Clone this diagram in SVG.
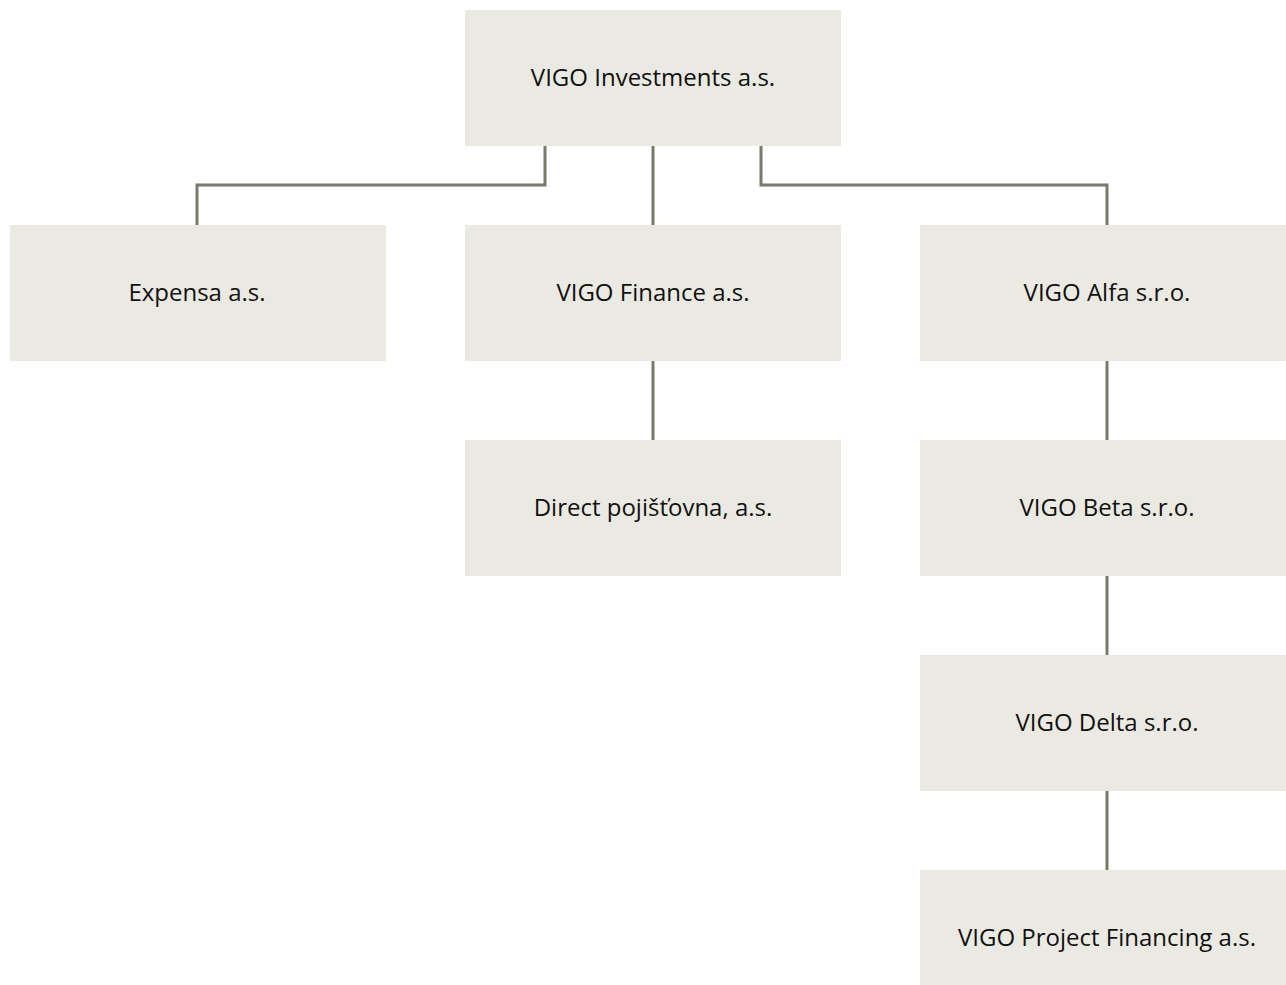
<svg xmlns="http://www.w3.org/2000/svg" width="1286" height="985" viewBox="0 0 1286 985">
<style>
.box{fill:#EBEAE2}
.t{font-family:"Open Sans","Noto Sans",sans-serif;font-size:24px;fill:#111;text-anchor:middle;dominant-baseline:central}
.c{fill:none;stroke:#7B7969;stroke-width:3}
</style>
<rect width="1286" height="985" fill="#fff"/>
<g id="connectors">
<polyline class="c" points="545,146 545,185 197,185 197,225"/>
<line class="c" x1="653" y1="146" x2="653" y2="225"/>
<polyline class="c" points="761,146 761,185 1107,185 1107,225"/>
<line class="c" x1="653" y1="361" x2="653" y2="440"/>
<line class="c" x1="1107" y1="361" x2="1107" y2="440"/>
<line class="c" x1="1107" y1="576" x2="1107" y2="655"/>
<line class="c" x1="1107" y1="791" x2="1107" y2="870"/>
</g>
<g id="n-vigo-investments"><rect class="box" x="465" y="10" width="376" height="136"/><text class="t" x="653" y="76">VIGO Investments a.s.</text></g>
<g id="n-expensa"><rect class="box" x="10" y="225" width="376" height="136"/><text class="t" x="197" y="291">Expensa a.s.</text></g>
<g id="n-vigo-finance"><rect class="box" x="465" y="225" width="376" height="136"/><text class="t" x="653" y="291">VIGO Finance a.s.</text></g>
<g id="n-vigo-alfa"><rect class="box" x="920" y="225" width="366" height="136"/><text class="t" x="1107" y="291">VIGO Alfa s.r.o.</text></g>
<g id="n-direct"><rect class="box" x="465" y="440" width="376" height="136"/><text class="t" x="653" y="506">Direct pojišťovna, a.s.</text></g>
<g id="n-vigo-beta"><rect class="box" x="920" y="440" width="366" height="136"/><text class="t" x="1107" y="506">VIGO Beta s.r.o.</text></g>
<g id="n-vigo-delta"><rect class="box" x="920" y="655" width="366" height="136"/><text class="t" x="1107" y="721">VIGO Delta s.r.o.</text></g>
<g id="n-vigo-project"><rect class="box" x="920" y="870" width="366" height="136"/><text class="t" x="1107" y="936">VIGO Project Financing a.s.</text></g>
</svg>
